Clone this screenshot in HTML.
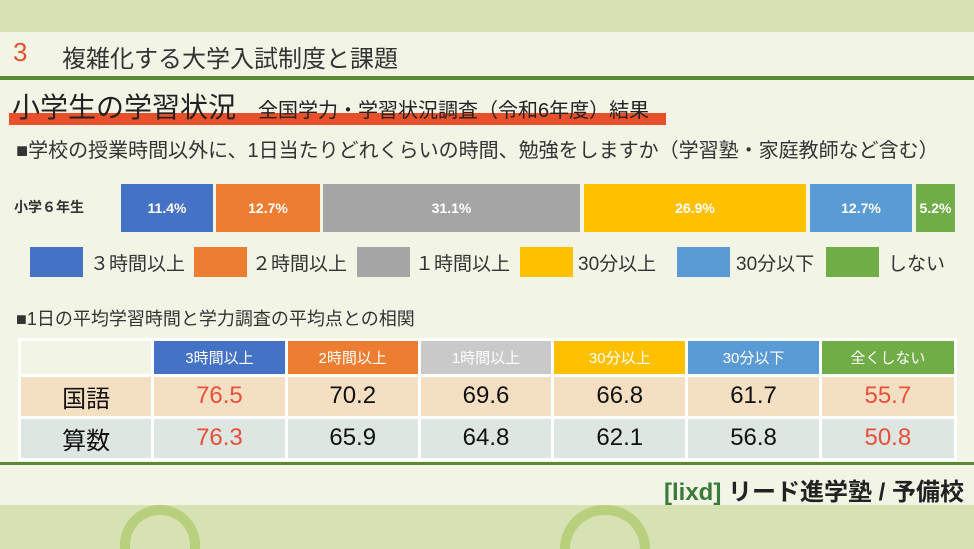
<!DOCTYPE html><html><head><meta charset="utf-8"><style>
body{margin:0;width:974px;height:549px;overflow:hidden;background:#f2f5e6;font-family:"Liberation Sans","Noto Sans CJK JP",sans-serif;position:relative}
.a{position:absolute}
.seg{position:absolute;top:184px;height:48px;color:#fff;font-weight:bold;font-size:14px;display:flex;align-items:center;justify-content:center}
.lb{position:absolute;top:247px;height:30px;width:53px}
.lt{position:absolute;top:249px;font-size:19px;color:#333;white-space:nowrap}
td{padding:0;text-align:center}
</style></head><body>
<div class="a" style="left:0;top:0;width:974px;height:32px;background:#d6e2b3"></div>
<div class="a" style="left:0;top:505px;width:974px;height:44px;background:#d6e2b3"></div>
<div class="a" style="left:120px;top:505px;width:80px;height:44px;border-radius:40px 40px 0 0;border:10px solid #b8cf7c;border-bottom:none;box-sizing:border-box"></div>
<div class="a" style="left:560px;top:505px;width:90px;height:44px;border-radius:45px 45px 0 0;border:10px solid #b8cf7c;border-bottom:none;box-sizing:border-box"></div>
<div class="a" style="left:13px;top:37px;font-size:26px;color:#e8502b">3</div>
<div class="a" style="left:62px;top:39px;font-size:24px;color:#333;white-space:nowrap">複雑化する大学入試制度と課題</div>
<div class="a" style="left:0;top:76px;width:974px;height:4px;background:#5c8a34"></div>
<div class="a" style="left:9px;top:113px;width:657px;height:12px;background:#e8502b"></div>
<div class="a" style="left:12px;top:86px;font-size:28px;color:#222;white-space:nowrap">小学生の学習状況</div>
<div class="a" style="left:258px;top:94px;font-size:20px;color:#222;white-space:nowrap">全国学力・学習状況調査（令和6年度）結果</div>
<div class="a" style="left:16px;top:134px;font-size:20px;color:#333;white-space:nowrap">■学校の授業時間以外に、1日当たりどれくらいの時間、勉強をしますか（学習塾・家庭教師など含む）</div>
<div class="a" style="left:14px;top:197px;font-size:14px;font-weight:bold;color:#333">小学６年生</div>
<div class="seg" style="left:121px;width:92px;background:#4472c4">11.4%</div>
<div class="seg" style="left:216px;width:104px;background:#ed7d31">12.7%</div>
<div class="seg" style="left:323px;width:257px;background:#a5a5a5">31.1%</div>
<div class="seg" style="left:584px;width:222px;background:#ffc000">26.9%</div>
<div class="seg" style="left:810px;width:102px;background:#5b9bd5">12.7%</div>
<div class="seg" style="left:916px;width:39px;background:#70ad47">5.2%</div>
<div class="lb" style="left:30px;background:#4472c4"></div><div class="lt" style="left:90px">３時間以上</div>
<div class="lb" style="left:194px;background:#ed7d31"></div><div class="lt" style="left:252px">２時間以上</div>
<div class="lb" style="left:357px;background:#a5a5a5"></div><div class="lt" style="left:415px">１時間以上</div>
<div class="lb" style="left:520px;background:#ffc000"></div><div class="lt" style="left:578px">30分以上</div>
<div class="lb" style="left:677px;background:#5b9bd5"></div><div class="lt" style="left:736px">30分以下</div>
<div class="lb" style="left:826px;background:#70ad47"></div><div class="lt" style="left:888px">しない</div>
<div class="a" style="left:16px;top:305px;font-size:18px;color:#333;white-space:nowrap">■1日の平均学習時間と学力調査の平均点との相関</div>
<table class="a" style="left:18px;top:338px;width:939px;height:123px;border-collapse:separate;border-spacing:3px;background:#fff;table-layout:fixed">
<colgroup><col style="width:130px"><col style="width:130px"><col style="width:130px"><col style="width:130px"><col style="width:131px"><col style="width:130px"><col style="width:132px"></colgroup>
<tr style="height:32px;font-size:15px;color:#fff"><td style="background:#f2f5e6"></td><td style="background:#4472c4">3時間以上</td><td style="background:#ed7d31">2時間以上</td><td style="background:#c9c9c9">1時間以上</td><td style="background:#ffc000">30分以上</td><td style="background:#5b9bd5">30分以下</td><td style="background:#70ad47">全くしない</td></tr>
<tr style="height:38px;font-size:24px;background:#f5dfc3;color:#111"><td>国語</td><td style="color:#e8503a">76.5</td><td>70.2</td><td>69.6</td><td>66.8</td><td>61.7</td><td style="color:#e8503a">55.7</td></tr>
<tr style="height:38px;font-size:24px;background:#dde6e0;color:#111"><td>算数</td><td style="color:#e8503a">76.3</td><td>65.9</td><td>64.8</td><td>62.1</td><td>56.8</td><td style="color:#e8503a">50.8</td></tr>
</table>
<div class="a" style="left:0;top:462px;width:974px;height:3px;background:#5c8a34"></div>
<div class="a" style="right:10px;top:472px;font-size:24px;font-weight:bold;color:#222;white-space:nowrap"><span style="color:#3a7a3a">[lixd]</span> リード進学塾 / 予備校</div>
</body></html>
